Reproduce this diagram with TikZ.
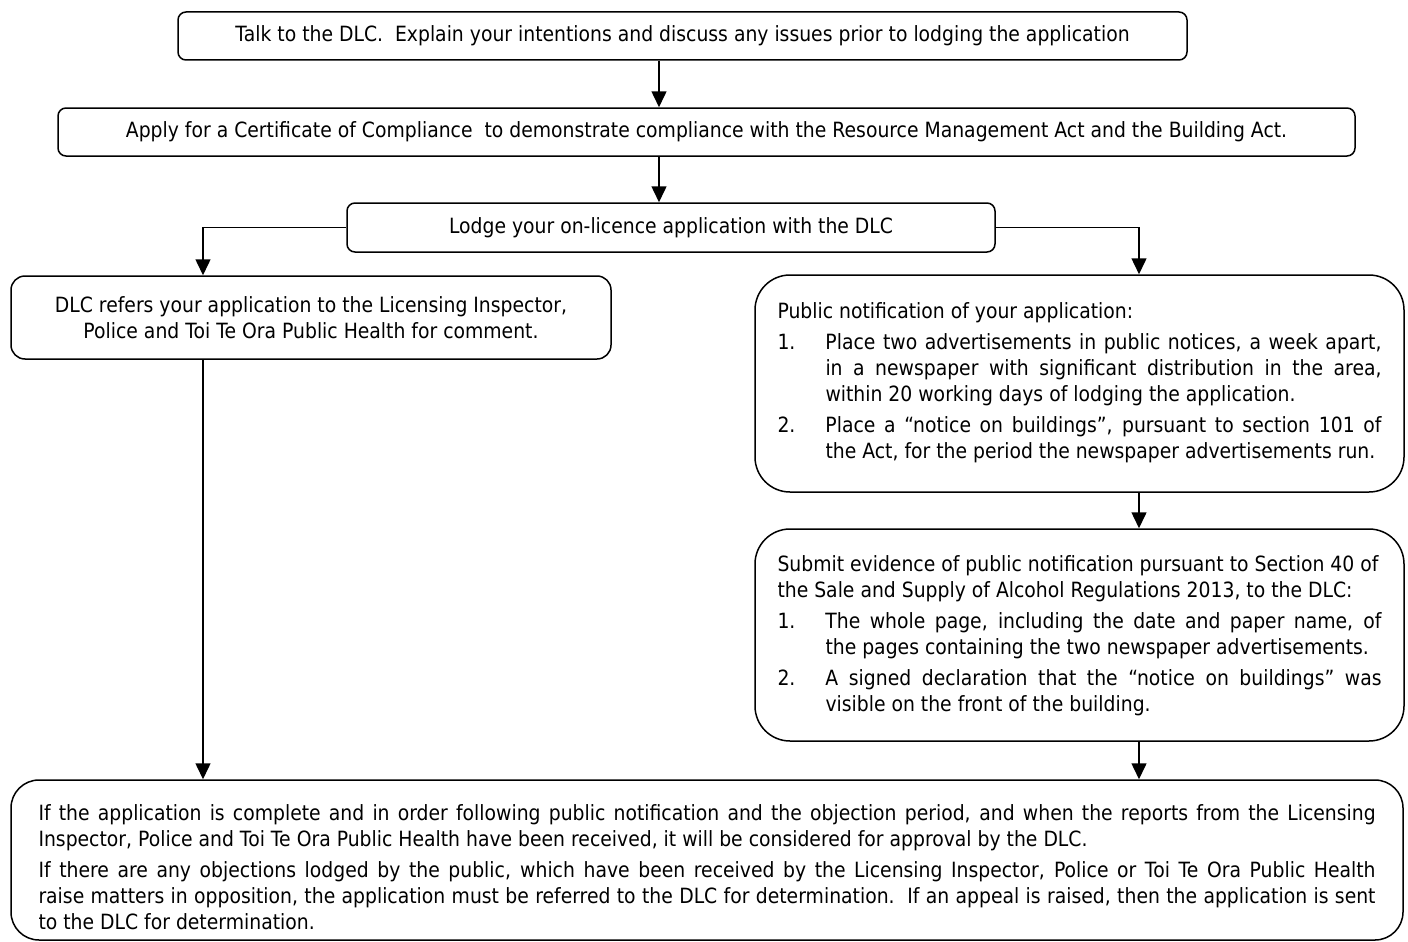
\documentclass[tikz,border=0pt]{standalone}
\usepackage{fontspec}
\setmainfont{DejaVu Sans}[FakeStretch=0.895]
\usetikzlibrary{arrows.meta,calc}
\newcommand{\fsz}{\fontsize{21}{26}\selectfont\parindent=0pt\parskip=5pt\tolerance=9999\emergencystretch=20pt}
\newcommand{\itm}[2]{\par\noindent\hangindent=48pt\hangafter=1\makebox[48pt][l]{#1}#2\par}
\tikzset{
  box/.style={draw, line width=1.5pt, rounded corners=8pt, font=\fsz, inner sep=0pt},
  txt/.style={font=\fsz, inner sep=0pt, align=justify},
  arr/.style={-{Triangle[width=15pt,length=16pt]}, line width=1.5pt}
}
\begin{document}
\begin{tikzpicture}[x=1pt,y=-1pt]
\useasboundingbox (0,0) rectangle (1408,942);
\coordinate (cA) at (659,0);
\coordinate (cL) at (203,0);
\coordinate (cR) at (1139,0);

\node[box, minimum width=1009pt, minimum height=48pt] (b1) at (682.5,36)
  {Talk to the DLC.~~Explain your intentions and discuss any issues prior to lodging the application};
\node[box, minimum width=1297pt, minimum height=48pt] (b2) at (706.5,132)
  {Apply for a Certificate of Compliance~~to demonstrate compliance with the Resource Management Act and the Building Act.};
\node[box, minimum width=648pt, minimum height=49pt] (b3) at (671,227.5)
  {Lodge your on-licence application with the DLC};
\node[box, rounded corners=14pt, minimum width=600pt, minimum height=83pt, align=center] (b4) at (311,317.5)
  {DLC refers your application to the Licensing Inspector,\\Police and Toi Te Ora Public Health for comment.};

\node[box, rounded corners=35pt, minimum width=649pt, minimum height=217pt] (b5) at (1079.5,383.5) {};
\node[txt, text width=604pt] (t5) at ($(b5.center)+(0,-1)$)
  {Public notification of your application:
   \itm{1.}{Place two advertisements in public notices, a week apart,\linebreak in a newspaper with significant distribution in the area,\linebreak within 20 working days of lodging the application.}
   \itm{2.}{Place a “notice on buildings”, pursuant to section 101 of\linebreak the Act, for the period the newspaper advertisements run.}};

\node[box, rounded corners=35pt, minimum width=649pt, minimum height=212pt] (b6) at (1079.5,635) {};
\node[txt, text width=604pt] (t6) at ($(b6.center)+(0,1)$)
  {Submit evidence of public notification pursuant to Section 40 of\newline the Sale and Supply of Alcohol Regulations 2013, to the DLC:
   \itm{1.}{The whole page, including the date and paper name, of\linebreak the pages containing the two newspaper advertisements.}
   \itm{2.}{A signed declaration that the “notice on buildings” was\linebreak visible on the front of the building.}};

\node[box, rounded corners=28pt, minimum width=1392pt, minimum height=160pt] (b7) at (707,860) {};
\node[txt, text width=1337pt] (t7) at ($(b7.center)+(0,7)$)
  {If the application is complete and in order following public notification and the objection period, and when the reports from the Licensing\linebreak Inspector, Police and Toi Te Ora Public Health have been received, it will be considered for approval by the DLC.\par
   If there are any objections lodged by the public, which have been received by the Licensing Inspector, Police or Toi Te Ora Public Health\linebreak raise matters in opposition, the application must be referred to the DLC for determination.~~If an appeal is raised, then the application is sent\linebreak to the DLC for determination.\par};

\draw[arr] (b1.south -| cA) -- (b2.north -| cA);
\draw[arr] (b2.south -| cA) -- (b3.north -| cA);
\draw[arr] (b3.west) -| (b4.north -| cL);
\draw[arr] (b3.east) -| (b5.north -| cR);
\draw[arr] (b5.south -| cR) -- (b6.north -| cR);
\draw[arr] (b6.south -| cR) -- (b7.north -| cR);
\draw[arr] (b4.south -| cL) -- (b7.north -| cL);
\end{tikzpicture}
\end{document}
